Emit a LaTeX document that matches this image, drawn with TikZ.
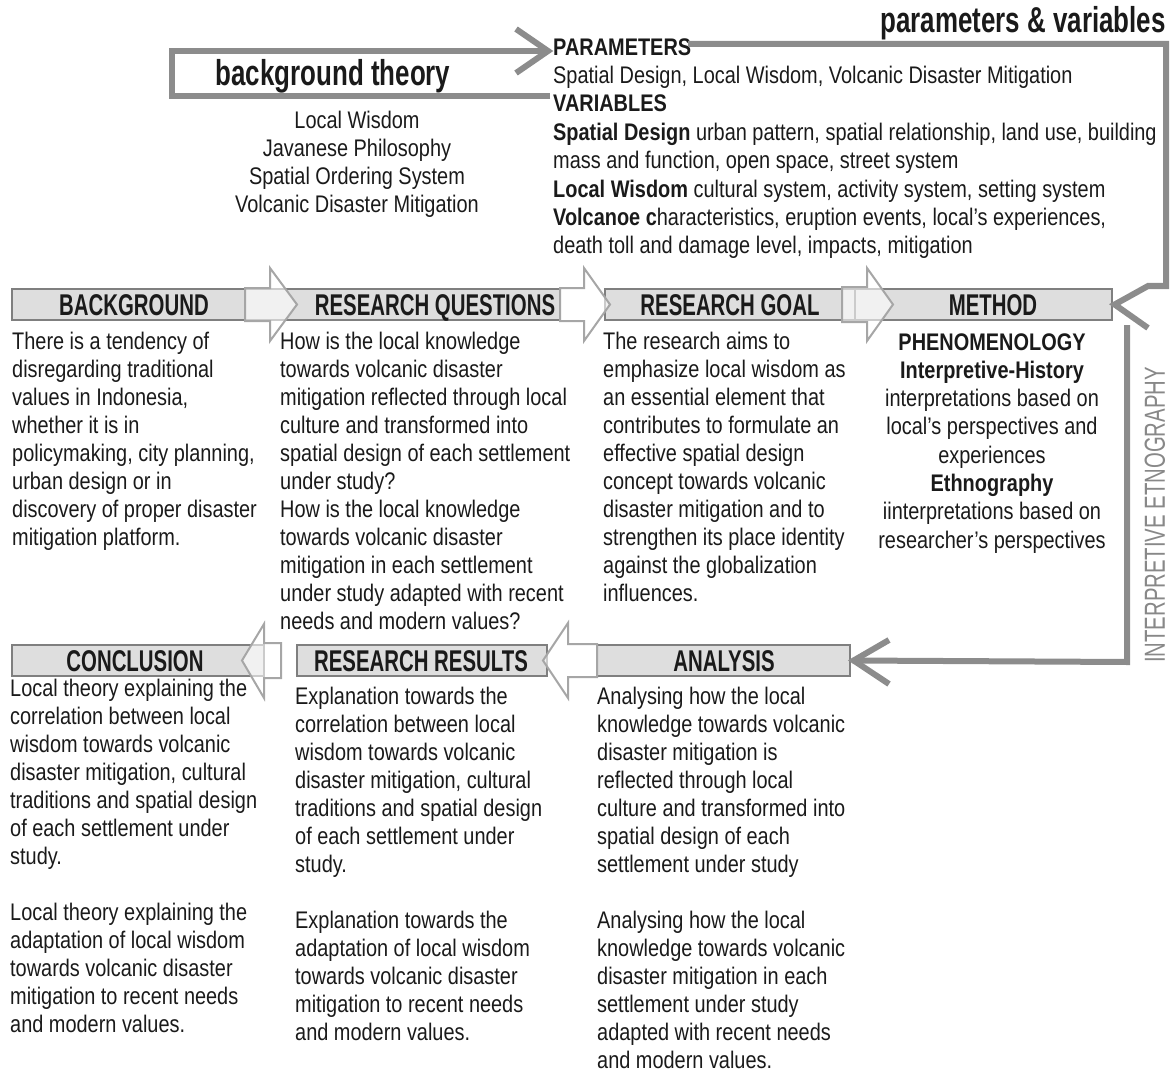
\documentclass[tikz,border=0pt]{standalone}
\usepackage{fontspec}
\setmainfont{Liberation Sans}[FakeStretch=0.83]
\newfontfamily\headfont{Liberation Sans}[FakeStretch=0.68]
\newfontfamily\titlefont{Liberation Sans}[FakeStretch=0.72]
\newfontfamily\sidefont{Liberation Sans}[FakeStretch=0.70]
\definecolor{boxfill}{HTML}{DEDEDE}
\definecolor{boxline}{HTML}{7F7F7F}
\definecolor{flowline}{HTML}{8C8C8C}
\definecolor{sidegray}{HTML}{888888}
\definecolor{blockline}{HTML}{A6A6A6}
\definecolor{ink}{HTML}{1A1A1A}
\begin{document}
\begin{tikzpicture}[x=1pt,y=-1pt,
  body/.style={inner sep=0, anchor=north west, align=left, text=ink,
    font=\fontsize{24}{28}\selectfont},
  bodyc/.style={body, anchor=north, align=center},
  hbox/.style={draw=boxline, fill=boxfill, line width=1.3pt, inner sep=0,
    minimum height=31pt},
  head/.style={inner sep=0, anchor=base, text=ink, font=\headfont\bfseries\fontsize{30}{32}\selectfont},
  ttl/.style={inner sep=0, text=ink, font=\titlefont\bfseries\fontsize{36}{40}\selectfont},
  flow/.style={draw=flowline, line width=6pt},
  blockarrow/.style={draw=blockline, line width=2pt, fill=white, fill opacity=0.6},
]
\useasboundingbox (0,0) rectangle (1172,1075);

% ---------- header boxes, upper row ----------
\node[hbox, minimum width=233pt] (bgbox) at (128.5,304.5) {};
\node[hbox, minimum width=315pt] (rqbox) at (402.5,304.5) {};
\node[hbox, minimum width=250pt] (rgbox) at (730,304.5) {};
\node[hbox, minimum width=257pt] (mbox)  at (983.5,304.5) {};

% ---------- header boxes, lower row ----------
\node[hbox, minimum width=252pt] (cbox)  at (138,660.5) {};
\node[hbox, minimum width=250pt] (rrbox) at (422,660.5) {};
\node[hbox, minimum width=253pt] (abox)  at (723.5,660.5) {};

% ---------- block arrows between the headers ----------
\draw[blockarrow] (245,288) -- (270,288) -- (270,268) -- (297,304.5) -- (270,341) -- (270,321) -- (245,321) -- cycle;
\draw[blockarrow] (560,288) -- (584,288) -- (584,268) -- (610,304.5) -- (584,341) -- (584,321) -- (560,321) -- cycle;
\draw[blockarrow] (842,287) -- (867,287) -- (867,268) -- (893,304.5) -- (867,341) -- (867,322) -- (842,322) -- cycle;
\draw[blockarrow] (281,643) -- (264,643) -- (264,624) -- (242,660.5) -- (264,698) -- (264,678) -- (281,678) -- cycle;
\draw[blockarrow] (597,644) -- (568,644) -- (568,623) -- (543,660.5) -- (568,698) -- (568,677) -- (597,677) -- cycle;

% ---------- header labels ----------
\node[head] (hbg) at (134,315.5) {BACKGROUND};
\node[head] (hrq) at (435,315.5) {RESEARCH QUESTIONS};
\node[head] (hrg) at (730,315.5) {RESEARCH GOAL};
\node[head] (hm)  at (993,315.5) {METHOD};
\node[head] (hc)  at (135,671) {CONCLUSION};
\node[head] (hrr) at (421,671) {RESEARCH RESULTS};
\node[head] (ha)  at (724,671) {ANALYSIS};

% ---------- titles ----------
\node[ttl, anchor=base] (bt) at (333,86) {background theory};
\node[ttl, anchor=base east] (pv) at (1166,33) {parameters \& variables};

% ---------- background theory list ----------
\node[bodyc] (btlist) at (357,109) {\strut Local Wisdom\\Javanese Philosophy\\Spatial Ordering System\\Volcanic Disaster Mitigation};

% ---------- parameters and variables ----------
\node[body, font=\fontsize{24}{28.4}\selectfont] (pvlist) at (553,35) {\strut\textbf{PARAMETERS}\\
Spatial Design, Local Wisdom, Volcanic Disaster Mitigation\\
\textbf{VARIABLES}\\
\textbf{Spatial Design} urban pattern, spatial relationship, land use, building\\
mass and function, open space, street system\\
\textbf{Local Wisdom} cultural system, activity system, setting system\\
\textbf{Volcanoe c}haracteristics, eruption events, local’s experiences,\\
death toll and damage level, impacts, mitigation};

% ---------- upper row texts ----------
\node[body] (tbg) at (12,330) {\strut There is a tendency of\\disregarding traditional\\values in Indonesia,\\whether it is in\\policymaking, city planning,\\urban design or in\\discovery of proper disaster\\mitigation platform.};
\node[body] (trq) at (280,330) {\strut How is the local knowledge\\towards volcanic disaster\\mitigation reflected through local\\culture and transformed into\\spatial design of each settlement\\under study?\\How is the local knowledge\\towards volcanic disaster\\mitigation in each settlement\\under study adapted with recent\\needs and modern values?};
\node[body] (trg) at (603,330) {\strut The research aims to\\emphasize local wisdom as\\an essential element that\\contributes to formulate an\\effective spatial design\\concept towards volcanic\\disaster mitigation and to\\strengthen its place identity\\against the globalization\\influences.};
\node[bodyc, font=\fontsize{24}{28.3}\selectfont] (tm) at (992,330) {\strut\textbf{PHENOMENOLOGY}\\\textbf{Interpretive-History}\\interpretations based on\\local’s perspectives and\\experiences\\\textbf{Ethnography}\\iinterpretations based on\\researcher’s perspectives};

% ---------- lower row texts ----------
\node[body] (tc) at (10,677) {\strut Local theory explaining the\\correlation between local\\wisdom towards volcanic\\disaster mitigation, cultural\\traditions and spatial design\\of each settlement under\\study.\\[28pt]Local theory explaining the\\adaptation of local wisdom\\towards volcanic disaster\\mitigation to recent needs\\and modern values.};
\node[body] (trr) at (295,685) {\strut Explanation towards the\\correlation between local\\wisdom towards volcanic\\disaster mitigation, cultural\\traditions and spatial design\\of each settlement under\\study.\\[28pt]Explanation towards the\\adaptation of local wisdom\\towards volcanic disaster\\mitigation to recent needs\\and modern values.};
\node[body] (ta) at (597,685) {\strut Analysing how the local\\knowledge towards volcanic\\disaster mitigation is\\reflected through local\\culture and transformed into\\spatial design of each\\settlement under study\\[28pt]Analysing how the local\\knowledge towards volcanic\\disaster mitigation in each\\settlement under study\\adapted with recent needs\\and modern values.};

% ---------- side label ----------
\node[inner sep=0, rotate=90, text=sidegray, font=\sidefont\fontsize{29}{32}\selectfont] (ie) at (1155,515) {INTERPRETIVE ETNOGRAPHY};

% ---------- flow lines ----------
% background theory loop into the parameters
\draw[flow] (550,96) -- (172,96) -- (172,51) -- (547,51);
\draw[flow] (516,29) -- (548,51) -- (516,73);
% parameters line down to the method
\draw[flow] (688,44) -- (1166,44) -- (1166,286) -- (1148,286) -- ([xshift=2pt]mbox.east) -- (1148,328);
% method line down to the analysis
\draw[flow] (1127,325) -- (1127,662) -- ([xshift=2pt]abox.east);
\draw[flow] (889,640) -- ([xshift=3pt]abox.east) -- (889,684);
\end{tikzpicture}
\end{document}
